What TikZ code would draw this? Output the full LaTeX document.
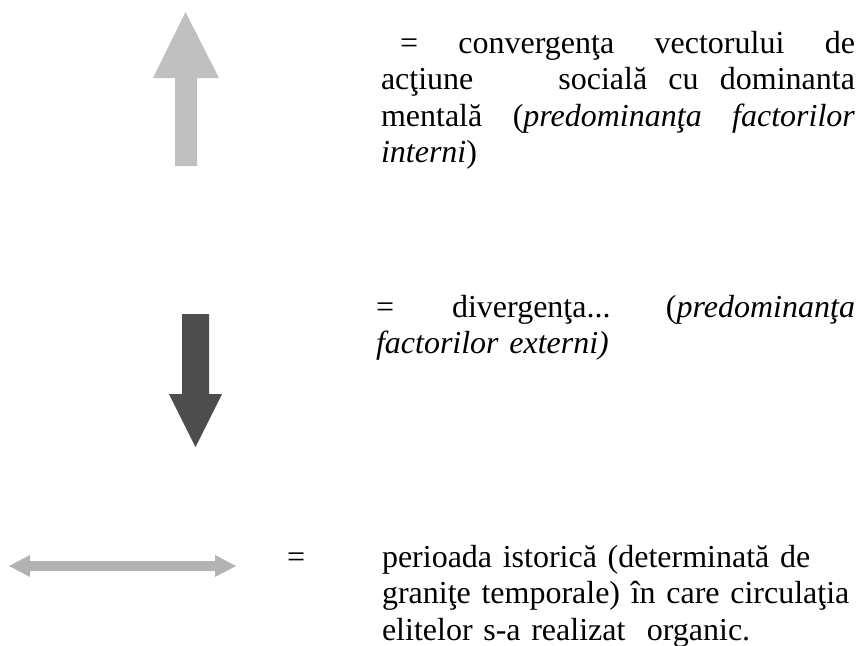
\documentclass[tikz,border=0pt]{standalone}
\usepackage{fontspec}
\setmainfont{Liberation Serif}
\definecolor{upgray}{HTML}{C0C0C0}
\definecolor{downgray}{HTML}{4D4D4D}
\definecolor{dblgray}{HTML}{B3B3B3}
\begin{document}
\begin{tikzpicture}[x=1pt,y=-1pt,
  txt/.style={inner sep=0pt,outer sep=0pt,anchor=base west,
    font={\fontsize{32pt}{36.6pt}\selectfont}}]
\useasboundingbox (0,0) rectangle (859,645);
% up arrow
\fill[upgray] (185.5,12) -- (219,78) -- (197,78) -- (197,166) -- (175,166) -- (175,78) -- (153,78) -- cycle;
% down arrow
\fill[downgray] (182,314) -- (209,314) -- (209,394) -- (222,394) -- (195.5,447) -- (169,394) -- (182,394) -- cycle;
% double arrow
\fill[dblgray] (9,566) -- (30,555) -- (30,561) -- (215,561) -- (215,555) -- (236,566) -- (215,577) -- (215,571) -- (30,571) -- (30,577) -- cycle;
% texts
\node[txt,text width=474pt,align=justify] (t1) at (381,53)
  {\hspace*{19pt}= convergenţa vectorului de\linebreak
   acţiune\ \ \ \ socială cu dominanta\linebreak
   mentală (\textit{predominanţa factorilor}\linebreak
   \textit{interni})};
\node[txt,text width=479pt,align=left] (t2) at (376,317)
  {\makebox[\linewidth][l]{=\hspace{58pt}divergenţa...\hfill(\textit{predominanţa}}\\
   \textit{factorilor externi)}};
\node[txt] (eq3) at (287,567) {=};
\node[txt,text width=472pt,align=left] (t3) at (382,567)
  {perioada istorică (determinată de\\
   \makebox[\linewidth][s]{graniţe temporale) în care circulaţia}\\
   elitelor s-a realizat\ \ organic.};
\end{tikzpicture}
\end{document}
